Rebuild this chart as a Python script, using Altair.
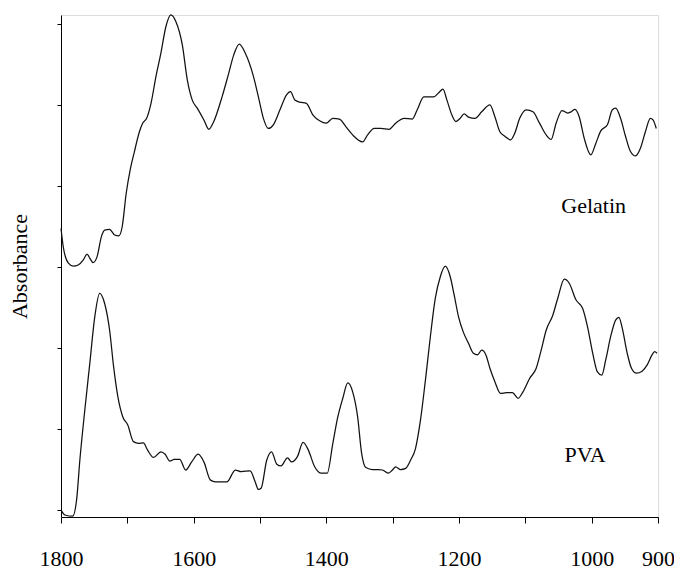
import altair as alt
import pandas as pd

# Gelatin spectrum (wavenumber cm-1, absorbance a.u.)
gel_wn = [1800, 1796.6, 1789.1, 1781.6, 1774.1, 1766.6, 1760.7, 1756.6, 1751.7, 1745.7,
          1739.1, 1734.2, 1726.7, 1719.2, 1712.8, 1707.7, 1701.7, 1695.7, 1689.3, 1681.8,
          1676.9, 1670.9, 1664.3, 1656.9, 1649.4, 1641.9, 1634.4, 1626.9, 1617.1, 1609.6,
          1602.1, 1594.6, 1584.6, 1577.1, 1569.7, 1557.2, 1547.2, 1539.7, 1531.2, 1522.3,
          1509.8, 1502.4, 1494.9, 1487.4, 1479.9, 1469.9, 1460.0, 1454.0, 1447.5, 1440.0,
          1430.1, 1420.1, 1410.1, 1400.2, 1390.2, 1380.2, 1370.3, 1360.3, 1345.3, 1337.8,
          1327.8, 1317.9, 1305.4, 1295.5, 1282.9, 1270.5, 1263.0, 1253.0, 1238.1, 1230.6,
          1224.2, 1218.2, 1210.7, 1204.7, 1198.3, 1192.3, 1185.7, 1175.8, 1165.8, 1153.4,
          1145.9, 1138.4, 1131.0, 1122.4, 1116.0, 1108.5, 1098.5, 1088.5, 1078.6, 1068.6,
          1061.1, 1053.6, 1044.7, 1036.2, 1031.2, 1025.2, 1018.8, 1011.3, 1001.3, 993.8,
          986.3, 976.3, 968.8, 963.9, 956.4, 948.9, 941.5, 934.0, 926.5, 919.0,
          911.5, 907.5, 902.6]
gel_ab = [6.95, 6.50, 6.10, 6.02, 6.05, 6.17, 6.32, 6.22, 6.11, 6.25,
          6.75, 6.91, 6.93, 6.79, 6.77, 7.00, 7.82, 8.40, 8.85, 9.34,
          9.55, 9.67, 10.04, 10.70, 11.28, 11.93, 12.22, 12.06, 11.48, 10.62,
          10.12, 9.92, 9.63, 9.40, 9.59, 10.20, 10.78, 11.23, 11.50, 11.28,
          10.70, 10.20, 9.67, 9.42, 9.51, 9.88, 10.25, 10.33, 10.12, 10.07,
          10.04, 9.75, 9.61, 9.55, 9.67, 9.65, 9.46, 9.26, 9.09, 9.26,
          9.42, 9.42, 9.40, 9.55, 9.67, 9.65, 9.88, 10.20, 10.20, 10.30,
          10.39, 10.12, 9.75, 9.59, 9.67, 9.78, 9.70, 9.67, 9.83, 10.00,
          9.71, 9.34, 9.23, 9.14, 9.30, 9.67, 9.88, 9.83, 9.55, 9.26,
          9.15, 9.55, 9.86, 9.80, 9.83, 9.89, 9.71, 9.18, 8.77, 9.05,
          9.36, 9.51, 9.88, 9.92, 9.67, 9.22, 8.85, 8.74, 8.93, 9.34,
          9.67, 9.63, 9.42]

# PVA spectrum
pva_wn = [1800, 1794.0, 1782.5, 1776.5, 1771.6, 1764.1, 1756.6, 1749.1, 1741.7, 1734.2,
          1726.7, 1720.7, 1714.3, 1706.8, 1699.3, 1690.8, 1682.9, 1675.9, 1669.4, 1660.5,
          1649.4, 1643.0, 1635.9, 1629.5, 1621.0, 1612.0, 1603.0, 1593.1, 1584.6, 1574.6,
          1567.1, 1549.8, 1537.2, 1528.2, 1514.8, 1507.3, 1502.4, 1498.3, 1489.9, 1482.5,
          1475.0, 1468.4, 1458.5, 1452.5, 1443.6, 1435.1, 1427.6, 1417.6, 1407.7, 1398.7,
          1390.2, 1382.7, 1375.2, 1367.7, 1360.3, 1352.8, 1346.8, 1340.4, 1330.4, 1321.8,
          1315.4, 1306.9, 1300.4, 1295.5, 1288.0, 1280.5, 1273.1, 1265.6, 1258.1, 1250.6,
          1243.2, 1235.7, 1228.2, 1220.7, 1213.2, 1207.3, 1200.7, 1193.2, 1185.7, 1178.2,
          1172.2, 1165.8, 1159.4, 1153.4, 1145.9, 1137.4, 1128.4, 1119.5, 1110.9, 1103.5,
          1093.6, 1083.6, 1076.1, 1068.6, 1058.6, 1051.1, 1041.2, 1033.8, 1023.7, 1013.7,
          1006.3, 997.9, 991.3, 984.8, 978.9, 971.4, 963.9, 958.9, 953.9, 946.4,
          940.0, 932.5, 924.0, 916.5, 909.0, 905.1, 901.5]
pva_ab = [0.00, -0.12, -0.15, 0.25, 1.23, 2.47, 3.62, 4.77, 5.35, 5.10,
          4.44, 3.54, 2.80, 2.30, 2.10, 1.69, 1.65, 1.66, 1.48, 1.30,
          1.44, 1.38, 1.21, 1.25, 1.25, 0.99, 1.19, 1.38, 1.19, 0.74,
          0.70, 0.70, 0.99, 0.95, 0.97, 0.70, 0.51, 0.54, 1.23, 1.44,
          1.14, 1.09, 1.29, 1.19, 1.32, 1.67, 1.50, 1.07, 0.91, 0.91,
          1.65, 2.30, 2.76, 3.14, 2.92, 2.30, 1.40, 1.05, 1.00, 1.00,
          0.99, 0.91, 0.99, 1.07, 1.00, 1.03, 1.23, 1.52, 2.22, 3.21,
          4.28, 5.23, 5.76, 6.02, 5.76, 5.31, 4.77, 4.38, 4.12, 3.87,
          3.83, 3.95, 3.83, 3.50, 3.17, 2.88, 2.90, 2.90, 2.76, 2.92,
          3.25, 3.50, 3.95, 4.44, 4.81, 5.23, 5.70, 5.60, 5.19, 4.98,
          4.53, 3.83, 3.41, 3.33, 3.70, 4.28, 4.69, 4.76, 4.49, 3.87,
          3.50, 3.38, 3.43, 3.58, 3.83, 3.91, 3.87]

label_text = ["Gelatin", "PVA"]
label_wn = [997, 1010]
label_ab = [7.51, 1.36]

x_ticks = [1800, 1700, 1600, 1500, 1400, 1300, 1200, 1100, 1000, 900]
y_ticks = [0, 1, 2, 3, 4, 5, 6, 7, 8, 9, 10, 11, 12, 12.22]

df = pd.concat([
    pd.DataFrame({"wn": gel_wn, "ab": gel_ab, "sample": "Gelatin"}),
    pd.DataFrame({"wn": pva_wn, "ab": pva_ab, "sample": "PVA"}),
])
lab = pd.DataFrame({"wn": label_wn, "ab": label_ab, "text": label_text})

FONT = "Liberation Serif"

xenc = alt.X("wn:Q",
             scale=alt.Scale(domain=[900, 1800], reverse=True, nice=False, zero=False),
             axis=alt.Axis(title=None, values=x_ticks, grid=False, format="d",
                           labelExpr="indexof([1700,1500,1300,1100], datum.value) >= 0 ? '' : datum.label",
                           labelFont=FONT, labelFontSize=22, labelColor="black",
                           tickSize=6, tickWidth=1, tickColor="black", domainColor="black",
                           labelPadding=25, labelFlush=False, labelOverlap=False))
yenc = alt.Y("ab:Q",
             scale=alt.Scale(domain=[-0.17, 12.22], nice=False, zero=False),
             axis=alt.Axis(title="Absorbance", values=y_ticks, labels=False, grid=False,
                           tickSize=4, tickWidth=1, tickColor="black", domainColor="black",
                           titleFont=FONT, titleFontSize=22, titleFontWeight="normal",
                           titleColor="black", titlePadding=25))

lines = alt.Chart(df).mark_line(color="#111111", strokeWidth=1.25, interpolate="monotone").encode(
    x=xenc, y=yenc, detail="sample:N", order=alt.Order("wn:Q", sort="descending"))

texts = alt.Chart(lab).mark_text(font=FONT, fontSize=22, color="black",
                                 align="center", baseline="middle").encode(
    x="wn:Q", y="ab:Q", text="text:N")

chart = alt.layer(lines, texts).properties(
    width=597, height=502,
    padding={"left": 53, "top": 7, "right": 16, "bottom": 56},
    autosize=alt.AutoSizeParams(type="none"),
).configure_view(stroke=None).configure(background="white")

chart.save("out.html", embed_options={"renderer": "svg", "actions": False})
